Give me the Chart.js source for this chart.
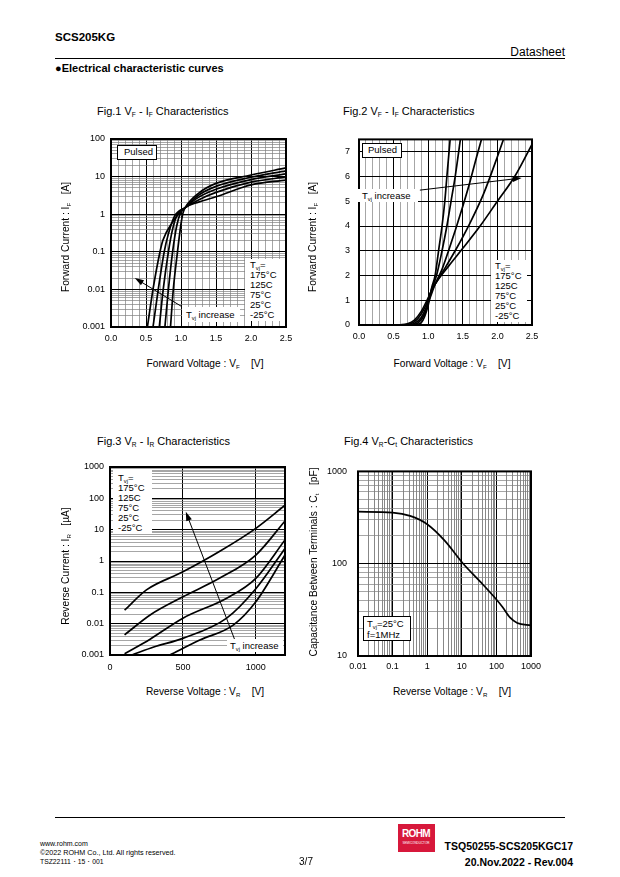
<!DOCTYPE html>
<html lang="en">
<head>
<meta charset="UTF-8" />
<title>SCS205KG - Electrical characteristic curves</title>
<script src="https://cdn.jsdelivr.net/npm/chart.js"></script>
<style>
  body { margin: 0; background: #fff; font-family: "Liberation Sans", Arial, sans-serif; color: #000; }
  #page { position: relative; width: 620px; height: 877px; overflow: hidden; background: #fff; }
  canvas { position: absolute; }
  .t { position: absolute; white-space: nowrap; line-height: 1; }
  .c { transform: translate(-50%, -50%); }
  .l { transform: translateY(-50%); }
  .r { transform: translate(-100%, -50%); }
  .rot { transform: translate(-50%, -50%) rotate(-90deg); }
  .ax { font-size: 10.2px; }
  .fig { font-size: 11px; }
  sub { font-size: 60%; vertical-align: -0.35em; line-height: 0; }
  .box { position: absolute; background: #fff; font-size: 9.5px; line-height: 10px; white-space: nowrap; box-sizing: border-box; }
  .bd { border: 1px solid #000; }
  .rule { position: absolute; height: 1px; background: #000; }
</style>
</head>
<body>
<div id="page">
  <!-- header -->
  <div class="t l" style="left:55px;top:38px;font-size:11.5px;font-weight:bold">SCS205KG</div>
  <div class="t r" style="left:565px;top:52px;font-size:12px">Datasheet</div>
  <div class="rule" style="left:55px;top:58px;width:510px"></div>
  <div class="t l" style="left:55px;top:68px;font-size:11px;font-weight:bold">●Electrical characteristic curves</div>

  <!-- figure titles -->
  <div class="t l fig" style="left:97px;top:111px">Fig.1 V<sub>F</sub> - I<sub>F</sub> Characteristics</div>
  <div class="t l fig" style="left:343px;top:111px">Fig.2 V<sub>F</sub> - I<sub>F</sub> Characteristics</div>
  <div class="t l fig" style="left:97px;top:441px">Fig.3 V<sub>R</sub> - I<sub>R</sub> Characteristics</div>
  <div class="t l fig" style="left:344px;top:441px">Fig.4 V<sub>R</sub>-C<sub>t</sub> Characteristics</div>

  <canvas id="fig1" width="240" height="230" style="left:60px;top:125px"></canvas>
  <canvas id="fig2" width="240" height="230" style="left:308px;top:125px"></canvas>
  <canvas id="fig3" width="240" height="230" style="left:60px;top:455px"></canvas>
  <canvas id="fig4" width="240" height="230" style="left:308px;top:455px"></canvas>

  <!-- axis titles -->
  <div class="t rot ax" style="left:66px;top:237px">Forward Current : I<sub>F</sub> &nbsp;&nbsp;[A]</div>
  <div class="t c ax" style="left:205px;top:364px">Forward Voltage : V<sub>F</sub> &nbsp;&nbsp;&nbsp;[V]</div>
  <div class="t rot ax" style="left:313px;top:237px">Forward Current : I<sub>F</sub> &nbsp;&nbsp;[A]</div>
  <div class="t c ax" style="left:452px;top:364px">Forward Voltage : V<sub>F</sub> &nbsp;&nbsp;&nbsp;[V]</div>
  <div class="t rot ax" style="left:66px;top:566px">Reverse Current : I<sub>R</sub> &nbsp;&nbsp;[µA]</div>
  <div class="t c ax" style="left:205px;top:692px">Reverse Voltage : V<sub>R</sub> &nbsp;&nbsp;&nbsp;[V]</div>
  <div class="t rot ax" style="left:314px;top:562px">Capacitance Between Terminals : C<sub>t</sub> &nbsp;&nbsp;[pF]</div>
  <div class="t c ax" style="left:452px;top:692px">Reverse Voltage : V<sub>R</sub> &nbsp;&nbsp;&nbsp;[V]</div>

  <!-- labels inside plots -->
  <div class="box bd" style="left:117px;top:145px;width:40px;height:15px;padding:1px 0 0 6px">Pulsed</div>
  <div class="box" style="left:245px;top:259px;width:40px;height:62px;padding:1px 0 0 5px">T<sub>vj</sub>=<br>175°C<br>125C<br>75°C<br>25°C<br>-25°C</div>
  <div class="box" style="left:182px;top:307px;width:58px;height:15px;padding:3px 0 0 4px">T<sub>vj</sub> increase</div>

  <div class="box bd" style="left:362px;top:143px;width:40px;height:15px;padding:1px 0 0 5px">Pulsed</div>
  <div class="box" style="left:358px;top:189px;width:60px;height:13px;padding:2px 0 0 4px">T<sub>vj</sub> increase</div>
  <div class="box" style="left:491px;top:260px;width:36px;height:62px;padding:1px 0 0 4px">T<sub>vj</sub>=<br>175°C<br>125C<br>75°C<br>25°C<br>-25°C</div>

  <div class="box" style="left:113px;top:470px;width:39px;height:64px;padding:3px 0 0 5px">T<sub>vj</sub>=<br>175°C<br>125C<br>75°C<br>25°C<br>-25°C</div>
  <div class="box" style="left:227px;top:639px;width:56px;height:13px;padding:2px 0 0 3px">T<sub>vj</sub> increase</div>

  <div class="box bd" style="left:363px;top:616px;width:48px;height:25px;padding:1px 0 0 3px;line-height:11px">T<sub>vj</sub>=25°C<br>f=1MHz</div>

  <!-- footer -->
  <div class="rule" style="left:55px;top:817px;width:510px"></div>
  <div class="t l" style="left:40px;top:843px;font-size:7px">www.rohm.com</div>
  <div class="t l" style="left:40px;top:853px;font-size:7.2px">©2022 ROHM Co., Ltd. All rights reserved.</div>
  <div class="t l" style="left:40px;top:862px;font-size:6.8px">TSZ22111・15・001</div>
  <div class="t c" style="left:306px;top:862px;font-size:10px">3/7</div>
  <div style="position:absolute;left:398px;top:824px;width:37px;height:28px;background:#d7183b"></div>
  <div class="t c" style="left:416px;top:834px;font-size:10px;font-weight:bold;color:#fff;letter-spacing:-0.6px">ROHM</div>
  <div class="t c" style="left:416px;top:843px;font-size:3px;color:#fff">SEMICONDUCTOR</div>
  <div class="t r" style="left:573px;top:846px;font-size:10.5px;font-weight:bold">TSQ50255-SCS205KGC17</div>
  <div class="t r" style="left:573px;top:862px;font-size:10.5px;font-weight:bold">20.Nov.2022 - Rev.004</div>
</div>

<script>
// ---- Fig.1  VF - IF (log current), Tvj = 175, 125, 75, 25, -25 C ----
const fig1V175 = [0.52, 0.60, 0.70, 0.74, 0.87, 1.06, 1.25, 1.5, 2.0, 2.5];
const fig1I175 = [0.001, 0.01, 0.1, 0.2, 0.58, 1.5, 2.1, 2.9, 6.0, 8.1];
const fig1V125 = [0.60, 0.675, 0.76, 0.82, 0.91, 1.06, 1.25, 1.5, 2.0, 2.5];
const fig1I125 = [0.001, 0.01, 0.1, 0.3, 0.9, 1.5, 2.4, 3.8, 7.1, 9.8];
const fig1V75 = [0.69, 0.746, 0.82, 0.88, 0.95, 1.06, 1.25, 1.5, 2.0, 2.5];
const fig1I75 = [0.001, 0.01, 0.1, 0.4, 1.0, 1.5, 2.8, 4.6, 8.3, 11.8];
const fig1V25 = [0.77, 0.82, 0.88, 0.94, 0.99, 1.06, 1.25, 1.5, 2.0, 2.5];
const fig1I25 = [0.001, 0.01, 0.1, 0.5, 1.05, 1.5, 3.2, 5.5, 9.6, 14.2];
const fig1Vm25 = [0.85, 0.89, 0.95, 1.0, 1.03, 1.06, 1.25, 1.5, 2.0, 2.5];
const fig1Im25 = [0.001, 0.01, 0.1, 0.55, 1.1, 1.5, 3.6, 6.6, 11, 17];
const fig1XTicks = ['0.0', '0.5', '1.0', '1.5', '2.0', '2.5'];
const fig1YTicks = ['0.001', '0.01', '0.1', '1', '10', '100'];

// ---- Fig.2  VF - IF (linear current) ----
const fig2V175 = [0, 0.5, 0.6, 0.7, 0.8, 0.9, 1.0, 1.1, 1.3, 1.5, 1.75, 2.0, 2.25, 2.5];
const fig2I175 = [0, 0, 0.01, 0.05, 0.2, 0.55, 1.1, 1.65, 2.4, 3.1, 4.0, 5.0, 6.0, 7.3];
const fig2V125 = [0, 0.55, 0.65, 0.75, 0.85, 0.95, 1.05, 1.2, 1.4, 1.6, 1.8, 2.0, 2.1];
const fig2I125 = [0, 0, 0.01, 0.05, 0.25, 0.7, 1.4, 2.1, 3.05, 4.1, 5.3, 6.8, 7.6];
const fig2V75 = [0, 0.6, 0.7, 0.8, 0.9, 1.0, 1.1, 1.2, 1.3, 1.4, 1.5, 1.6, 1.7, 1.78];
const fig2I75 = [0, 0, 0.01, 0.06, 0.3, 0.9, 1.65, 2.25, 3.05, 3.9, 4.8, 5.75, 6.8, 7.6];
const fig2V25 = [0, 0.65, 0.75, 0.85, 0.95, 1.05, 1.12, 1.2, 1.27, 1.33, 1.39, 1.47];
const fig2I25 = [0, 0, 0.01, 0.08, 0.45, 1.45, 2.0, 3.0, 4.0, 5.0, 6.0, 7.6];
const fig2Vm25 = [0, 0.7, 0.8, 0.9, 1.0, 1.05, 1.1, 1.15, 1.2, 1.24, 1.27, 1.32];
const fig2Im25 = [0, 0, 0.01, 0.1, 0.8, 1.5, 2.0, 3.0, 4.0, 5.0, 6.0, 7.6];
const fig2XTicks = ['0.0', '0.5', '1.0', '1.5', '2.0', '2.5'];
const fig2YTicks = ['0', '1', '2', '3', '4', '5', '6', '7'];

// ---- Fig.3  VR - IR (uA) ----
const fig3V175 = [100, 250, 500, 750, 1000, 1200];
const fig3I175 = [0.027, 0.12, 0.45, 2.0, 11, 60];
const fig3V125 = [100, 275, 500, 750, 1000, 1200];
const fig3I125 = [0.0044, 0.019, 0.072, 0.28, 1.55, 19];
const fig3V75 = [100, 275, 500, 800, 1000, 1200];
const fig3I75 = [0.0011, 0.0032, 0.015, 0.065, 0.28, 4.7];
const fig3V25 = [150, 300, 500, 800, 1000, 1200];
const fig3I25 = [0.001, 0.0018, 0.0034, 0.015, 0.13, 2.5];
const fig3Vm25 = [410, 616, 845, 1000, 1200];
const fig3Im25 = [0.001, 0.003, 0.009, 0.05, 1.55];
const fig3XTicks = ['0', '500', '1000'];
const fig3YTicks = ['0.001', '0.01', '0.1', '1', '10', '100', '1000'];

// ---- Fig.4  VR - Ct ----
const fig4V = [0.01, 0.1, 0.32, 1, 3.2, 11, 34, 100, 150, 250, 400, 1000];
const fig4C = [366, 358, 330, 268, 178, 100, 64, 41, 34, 26, 22.8, 21.5];
const fig4XTicks = ['0.01', '0.1', '1', '10', '100', '1000'];
const fig4YTicks = ['10', '100', '1000'];

Chart.defaults.font.family = '"Liberation Sans", Arial, sans-serif';
Chart.defaults.font.size = 9;
Chart.defaults.color = '#000';

function pts(xs, ys) {
  return xs.map((x, i) => ({ x: x, y: ys[i] }));
}

function curve(xs, ys) {
  return {
    data: pts(xs, ys),
    borderColor: '#000',
    borderWidth: 1.7,
    pointRadius: 0,
    fill: false,
    cubicInterpolationMode: 'monotone'
  };
}

// grid positions; majors get the tick labels in order
function linGrid(min, max, step, majorEvery, labels) {
  const out = [];
  const n = Math.round((max - min) / step);
  let k = 0;
  for (let i = 0; i <= n; i++) {
    const t = { value: +(min + i * step).toFixed(6), major: i % majorEvery === 0 };
    if (t.major) t.lab = labels[k++];
    out.push(t);
  }
  return out;
}

function logGrid(labels) {
  const out = [];
  const dec = labels.map(Number);
  for (let d = 0; d < dec.length - 1; d++) {
    for (let m = 1; m < 10; m++) {
      out.push({ value: dec[d] * m, major: m === 1, lab: m === 1 ? labels[d] : '' });
    }
  }
  out.push({ value: dec[dec.length - 1], major: true, lab: labels[dec.length - 1] });
  return out;
}

function axis(type, min, max, grid, size, pad, minorColor) {
  return {
    type: type,
    min: min,
    max: max,
    afterBuildTicks: s => { s.ticks = grid.map(t => Object.assign({}, t)); },
    afterFit: s => {
      if (s.isHorizontal()) s.height = size; else s.width = size;
    },
    ticks: {
      autoSkip: false,
      maxRotation: 0,
      minRotation: 0,
      padding: pad,
      color: '#000',
      font: { size: 9 },
      callback: (v, i, ts) => ts[i].lab || ''
    },
    grid: {
      drawTicks: false,
      color: c => (c.tick && c.tick.major) ? '#000' : (minorColor || '#808080'),
      lineWidth: c => (c.tick && c.tick.major) ? 1 : 0.7
    },
    border: { display: false }
  };
}

// frame + arrows, arrows given in data units
const framePlugin = {
  id: 'frame',
  afterDraw(chart, args, opts) {
    const ctx = chart.ctx, a = chart.chartArea, sx = chart.scales.x, sy = chart.scales.y;
    ctx.save();
    (opts.arrows || []).forEach(ar => {
      const x1 = sx.getPixelForValue(ar[0]), y1 = sy.getPixelForValue(ar[1]);
      const x2 = sx.getPixelForValue(ar[2]), y2 = sy.getPixelForValue(ar[3]);
      const ang = Math.atan2(y2 - y1, x2 - x1);
      ctx.strokeStyle = '#000';
      ctx.lineWidth = 1;
      ctx.beginPath();
      ctx.moveTo(x1, y1);
      ctx.lineTo(x2 - 6 * Math.cos(ang), y2 - 6 * Math.sin(ang));
      ctx.stroke();
      ctx.fillStyle = '#000';
      ctx.beginPath();
      ctx.moveTo(x2, y2);
      ctx.lineTo(x2 - 9 * Math.cos(ang) + 3 * Math.sin(ang), y2 - 9 * Math.sin(ang) - 3 * Math.cos(ang));
      ctx.lineTo(x2 - 9 * Math.cos(ang) - 3 * Math.sin(ang), y2 - 9 * Math.sin(ang) + 3 * Math.cos(ang));
      ctx.closePath();
      ctx.fill();
    });
    ctx.strokeStyle = '#000';
    ctx.lineWidth = 2;
    ctx.strokeRect(a.left, a.top, a.right - a.left, a.bottom - a.top);
    ctx.restore();
  }
};

function makeChart(id, datasets, xAxis, yAxis, padTop, padRight, arrows) {
  return new Chart(document.getElementById(id), {
    type: 'line',
    data: { datasets: datasets },
    options: {
      responsive: false,
      animation: false,
      events: [],
      layout: { autoPadding: false, padding: { top: padTop, right: padRight, left: 0, bottom: 0 } },
      plugins: { legend: { display: false }, tooltip: { enabled: false }, frame: { arrows: arrows } },
      scales: { x: xAxis, y: yAxis }
    },
    plugins: [framePlugin]
  });
}

makeChart('fig1',
  [curve(fig1V175, fig1I175), curve(fig1V125, fig1I125), curve(fig1V75, fig1I75),
   curve(fig1V25, fig1I25), curve(fig1Vm25, fig1Im25)],
  axis('linear', 0, 2.5, linGrid(0, 2.5, 0.1, 5, fig1XTicks), 28, 6),
  axis('logarithmic', 0.001, 100, logGrid(fig1YTicks), 51, 6),
  14, 14, [[1.01, 0.0035, 0.34, 0.02]]);

makeChart('fig2',
  [curve(fig2V175, fig2I175), curve(fig2V125, fig2I125), curve(fig2V75, fig2I75),
   curve(fig2V25, fig2I25), curve(fig2Vm25, fig2Im25)],
  axis('linear', 0, 2.5, linGrid(0, 2.5, 0.1, 5, fig2XTicks), 30, 6),
  axis('linear', 0, 7.5, linGrid(0, 7, 1, 1, fig2YTicks), 51, 9),
  12, 16, [[0.88, 5.45, 2.35, 5.94]]);

makeChart('fig3',
  [curve(fig3V175, fig3I175), curve(fig3V125, fig3I125), curve(fig3V75, fig3I75),
   curve(fig3V25, fig3I25), curve(fig3Vm25, fig3Im25)],
  axis('linear', 0, 1200, linGrid(0, 1000, 500, 1, fig3XTicks), 30, 7),
  axis('logarithmic', 0.001, 1000, logGrid(fig3YTicks), 50, 6),
  12, 15, [[856, 0.003, 520, 37]]);

makeChart('fig4',
  [curve(fig4V, fig4C)],
  axis('logarithmic', 0.01, 1000, logGrid(fig4XTicks), 29, 5, '#555'),
  axis('logarithmic', 10, 1000, logGrid(fig4YTicks), 50, 11, '#808080'),
  13, 17, []);
</script>
</body>
</html>
